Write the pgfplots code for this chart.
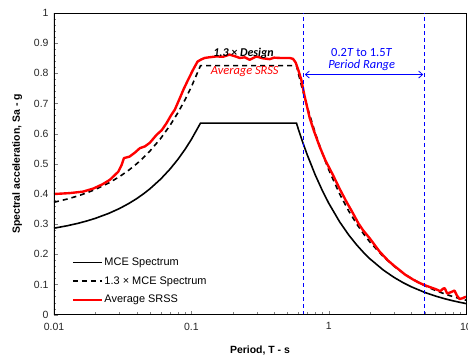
\documentclass[border=0pt]{standalone}
\usepackage{pgfplots}
\pgfplotsset{compat=1.18}
\usepackage{fontspec}
\setmainfont{Liberation Sans}
\newfontfamily\calfont{Carlito}
\usetikzlibrary{arrows.meta}

\definecolor{srssred}{RGB}{255,0,0}
\definecolor{rangeblue}{RGB}{0,0,255}

\begin{document}
\begin{tikzpicture}
\path[use as bounding box] (0,0) rectangle (468bp,360bp);
\begin{axis}[
  at={(54bp,45.3bp)}, anchor=south west,
  scale only axis, width=412bp, height=301.7bp,
  xmode=log, xmin=0.01, xmax=10,
  ymin=0, ymax=1,
  log ticks with fixed point,
  xtick={0.01,0.1,1,10},
  ytick={0,0.1,...,1},
  minor y tick num=4,
  yticklabel style={/pgf/number format/fixed,/pgf/number format/precision=1, xshift=-2bp},
  xticklabel style={yshift=-4.5bp},
  /pgf/number format/assume math mode=true,
  tick label style={font=\fontsize{10.5}{12}\selectfont, color=black!85},
  tick align=inside, tick pos=left,
  major tick length=4bp, minor tick length=2.5bp,
  axis line style={line width=0.5pt},
  xlabel={\bfseries Period, T - s},
  ylabel={\bfseries Spectral acceleration, Sa - g},
  label style={font=\fontsize{10.5}{12}\selectfont},
  xlabel style={yshift=-9bp},
  ylabel style={yshift=5bp},
  legend style={draw=none, fill=none, at={(0.035,0.02)}, anchor=south west,
    font=\fontsize{11}{13}\selectfont, row sep=5.5bp,
    nodes={inner xsep=1.5bp}},
  legend cell align=left,
  legend image code/.code={\draw[#1] (0bp,0bp) -- (29bp,0bp);},
]
% MCE design spectrum
\addplot[black, line width=1.6pt] coordinates {
(0.01,0.2867) (0.0125,0.2949) (0.015,0.3030) (0.0175,0.3112) (0.02,0.3194)
(0.025,0.3357) (0.03,0.3520) (0.035,0.3684) (0.04,0.3847) (0.045,0.4011)
(0.05,0.4174) (0.06,0.4501) (0.07,0.4828) (0.08,0.5154) (0.09,0.5481)
(0.1,0.5808) (0.1166,0.635) (0.583,0.635) (0.6,0.6167) (0.65,0.5692)
(0.7,0.5286) (0.8,0.4625) (0.9,0.4111) (1.0,0.37) (1.2,0.3083) (1.4,0.2643)
(1.6,0.2313) (1.8,0.2056) (2.0,0.185) (2.5,0.148) (3.0,0.1233) (3.5,0.1057)
(4.0,0.0925) (5.0,0.074) (6.0,0.0617) (7.0,0.0529) (8.0,0.0463) (9.0,0.0411)
(10,0.037)};
\addlegendentry{MCE Spectrum}
% 1.3 x MCE spectrum
\addplot[black, line width=1.6pt, dash pattern=on 5bp off 4bp] coordinates {
(0.01,0.3727) (0.0125,0.3834) (0.015,0.3939) (0.0175,0.4046) (0.02,0.4152)
(0.025,0.4364) (0.03,0.4576) (0.035,0.4789) (0.04,0.5001) (0.045,0.5214)
(0.05,0.5426) (0.06,0.5851) (0.07,0.6276) (0.08,0.6700) (0.09,0.7125)
(0.1,0.7550) (0.1166,0.8255) (0.583,0.8255) (0.6,0.8017) (0.65,0.7400)
(0.7,0.6872) (0.8,0.6013) (0.9,0.5344) (1.0,0.481) (1.2,0.4008) (1.4,0.3436)
(1.6,0.3007) (1.8,0.2673) (2.0,0.2405) (2.5,0.1924) (3.0,0.1603) (3.5,0.1374)
(4.0,0.1203) (5.0,0.0962) (6.0,0.0802) (7.0,0.0688) (8.0,0.0602) (9.0,0.0534)
(10,0.0481)};
\addlegendentry{1.3 × MCE Spectrum}
% average SRSS of the scaled records
\addplot[srssred, line width=2.4pt, line join=round] coordinates {
(0.0100,0.400) (0.0130,0.403) (0.0163,0.408) (0.0193,0.418) (0.0225,0.432)
(0.0255,0.447) (0.0294,0.474) (0.0310,0.495) (0.0323,0.519) (0.0355,0.524)
(0.0390,0.538) (0.0422,0.552) (0.0460,0.558) (0.0499,0.570) (0.0558,0.596)
(0.0610,0.612) (0.0660,0.635) (0.0710,0.660) (0.0759,0.680) (0.0825,0.718)
(0.0880,0.748) (0.0948,0.779) (0.1030,0.812) (0.1110,0.839) (0.1180,0.846)
(0.1250,0.851) (0.1340,0.853) (0.1520,0.856) (0.1700,0.855) (0.1900,0.862)
(0.2100,0.856) (0.2250,0.851) (0.2450,0.853) (0.2660,0.845) (0.2980,0.856)
(0.3300,0.850) (0.3720,0.847) (0.4000,0.852) (0.4400,0.851) (0.5200,0.851)
(0.5500,0.848) (0.5750,0.836) (0.6000,0.812) (0.6320,0.779) (0.6690,0.723)
(0.7280,0.652) (0.7800,0.610) (0.8600,0.557) (0.9500,0.510) (1.0750,0.463)
(1.2000,0.418) (1.3450,0.375) (1.5000,0.337) (1.6500,0.302) (1.7800,0.280)
(2.0000,0.252) (2.3500,0.209) (2.7000,0.180) (3.0000,0.162) (3.2800,0.148)
(3.6000,0.133) (4.1000,0.117) (4.5000,0.107) (4.9900,0.098) (5.5000,0.091)
(6.0700,0.084) (6.5000,0.078) (6.8000,0.086) (7.0000,0.088) (7.3000,0.070)
(7.8000,0.075) (8.2500,0.080) (8.6000,0.063) (8.9800,0.052) (9.5000,0.055)
(10.000,0.060)};
\addlegendentry{Average SRSS}
% period range limits 0.2T and 1.5T
\addplot[rangeblue, line width=0.9pt, dash pattern=on 4bp off 3bp, forget plot] coordinates {(0.66,0) (0.66,1)};
\addplot[rangeblue, line width=0.9pt, dash pattern=on 4bp off 3bp, forget plot] coordinates {(4.95,0) (4.95,1)};
\draw[rangeblue, line width=0.8pt, {Straight Barb[length=4bp,width=7bp]}-{Straight Barb[length=4bp,width=7bp]}]
  (axis cs:0.67,0.796) -- (axis cs:4.88,0.796);
\node[rangeblue, font=\calfont\fontsize{12.5}{14}\selectfont] at (axis cs:1.74,0.870) {0.2\textit{T} to 1.5\textit{T}};
\node[rangeblue, font=\calfont\itshape\fontsize{12.5}{14}\selectfont] at (axis cs:1.74,0.826) {Period Range};
\node[black, font=\calfont\bfseries\itshape\fontsize{12}{14}\selectfont] at (axis cs:0.24,0.868) {1.3 × Design};
\node[srssred, font=\calfont\itshape\fontsize{12.5}{14}\selectfont] at (axis cs:0.245,0.806) {Average SRSS};
% heavier left and bottom axis lines
\draw[black, line width=1.1pt] (rel axis cs:0,1) -- (rel axis cs:0,0) -- (rel axis cs:1,0);
\end{axis}
\end{tikzpicture}
\end{document}
